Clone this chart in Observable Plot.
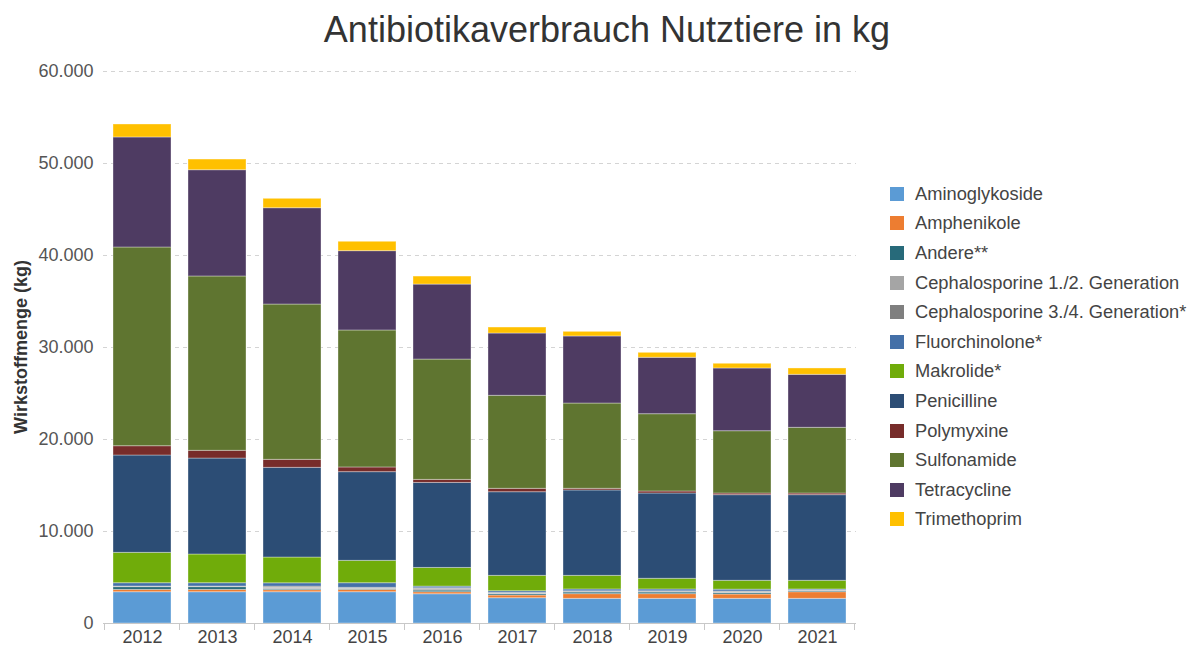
<!DOCTYPE html>
<html><head><meta charset="utf-8">
<script src="https://cdn.jsdelivr.net/npm/d3@7"></script>
<script src="https://cdn.jsdelivr.net/npm/@observablehq/plot@0.6"></script>
<style>
body{margin:0;background:#fff;font-family:"Liberation Sans",Arial,sans-serif;}
#wrap{position:relative;width:1194px;height:648px;overflow:hidden;background:#fff;}
#title{position:absolute;left:0;width:1214px;top:9px;line-height:42px;text-align:center;font-size:36px;color:#333;}
#chart{position:absolute;left:0;top:50px;}
#ylabel{position:absolute;z-index:2;left:21px;top:347px;transform:translate(-50%,-50%) rotate(-90deg);font-size:18px;font-weight:bold;color:#333;white-space:nowrap;}
#legend{position:absolute;left:890px;top:179px;}
.li{height:29.6px;display:flex;align-items:center;font-size:18.3px;color:#444;white-space:nowrap;}
.sw{width:14px;height:14px;margin-right:11px;flex:none;}
</style>
</head><body>
<div id="wrap">
<div id="title">Antibiotikaverbrauch Nutztiere in kg</div>
<div id="chart"></div>
<div id="ylabel">Wirkstoffmenge (kg)</div>
<div id="legend"></div>
</div>
<script>
const years = [2012, 2013, 2014, 2015, 2016, 2017, 2018, 2019, 2020, 2021];
const categories = ["Aminoglykoside","Amphenikole","Andere**","Cephalosporine 1./2. Generation","Cephalosporine 3./4. Generation*","Fluorchinolone*","Makrolide*","Penicilline","Polymyxine","Sulfonamide","Tetracycline","Trimethoprim"];
const colors = ["#5b9bd5","#ed7d31","#276a7a","#a5a5a5","#7f7f7f","#4470a8","#70ac0a","#2c4d75","#772c2a","#5f7530","#4e3b62","#ffc000"];
const yTicks = [0, 10000, 20000, 30000, 40000, 50000, 60000];

const aminoglykoside = [3400,3400,3400,3400,3180,2750,2680,2680,2680,2680];
const amphenikole    = [250,250,220,250,220,290,510,510,470,720];
const andere         = [300,300,110,100,180,150,180,180,150,120];
const cephalo12      = [20,20,140,30,150,60,50,50,100,20];
const cephalo34      = [50,50,140,100,100,80,80,80,80,60];
const fluorchinolone = [360,360,360,500,180,180,200,200,200,100];
const makrolide      = [3300,3120,2800,2430,2030,1670,1480,1160,960,940];
const penicilline    = [10580,10430,9750,9640,9240,9090,9280,9270,9310,9310];
const polymyxine     = [1010,840,870,510,330,370,180,220,180,180];
const sulfonamide    = [21600,18950,16880,14890,13080,10110,9270,8400,6770,7140];
const tetracycline   = [11960,11550,10470,8620,8150,6770,7290,6130,6820,5760];
const trimethoprim   = [1410,1160,1020,1020,870,650,500,540,510,690];

const seriesValues = [aminoglykoside, amphenikole, andere, cephalo12, cephalo34, fluorchinolone, makrolide, penicilline, polymyxine, sulfonamide, tetracycline, trimethoprim];

const data = [];
categories.forEach((c, i) => {
  years.forEach((y, j) => data.push({year: String(y), klasse: c, value: seriesValues[i][j]}));
});

const fmt = d => d3.format(",")(d).replace(/,/g, ".");

const plot = Plot.plot({
  width: 880,
  height: 598,
  marginLeft: 103,
  marginRight: 24,
  marginTop: 21,
  marginBottom: 25,
  style: {fontFamily: '"Liberation Sans", Arial, sans-serif', fontSize: "18px", color: "#555", background: "transparent"},
  x: {domain: years.map(String), paddingInner: 0.23, paddingOuter: 0.115, label: null},
  y: {domain: [0, 60000], label: null},
  color: {domain: categories, range: colors},
  marks: [
    Plot.gridY(yTicks.slice(1), {stroke: "#d4d4d4", strokeOpacity: 1, strokeDasharray: "4,4"}),
    Plot.barY(data, Plot.stackY({x: "year", y: "value", fill: "klasse", order: categories, stroke: "#ffffff", strokeOpacity: 0.35, strokeWidth: 1})),
    Plot.ruleY([0], {stroke: "#c8c8c8"}),
    Plot.axisY({ticks: yTicks, tickSize: 0, tickPadding: 10, tickFormat: fmt, label: null, fill: "#555"}),
    Plot.axisX({tickSize: 0, tickPadding: 7, label: null, fill: "#444"})
  ]
});
document.getElementById("chart").appendChild(plot);

// boundary ticks between categories, derived from the band scale
const xs = plot.scale("x");
const ys = plot.scale("y");
const gap = (xs.step - xs.bandwidth) / 2;
const bounds = years.map(y => xs.apply(String(y)) - gap);
bounds.push(xs.apply(String(years[years.length - 1])) + xs.bandwidth + gap);
const y0 = ys.apply(0);
d3.select(plot).append("g")
  .selectAll("line").data(bounds).join("line")
  .attr("x1", d => d).attr("x2", d => d)
  .attr("y1", y0).attr("y2", y0 + 7)
  .attr("stroke", "#c8c8c8");

const legend = d3.select("#legend");
categories.forEach((c, i) => {
  const row = legend.append("div").attr("class", "li");
  row.append("div").attr("class", "sw").style("background", colors[i]);
  row.append("span").text(c);
});
</script>
</body></html>
